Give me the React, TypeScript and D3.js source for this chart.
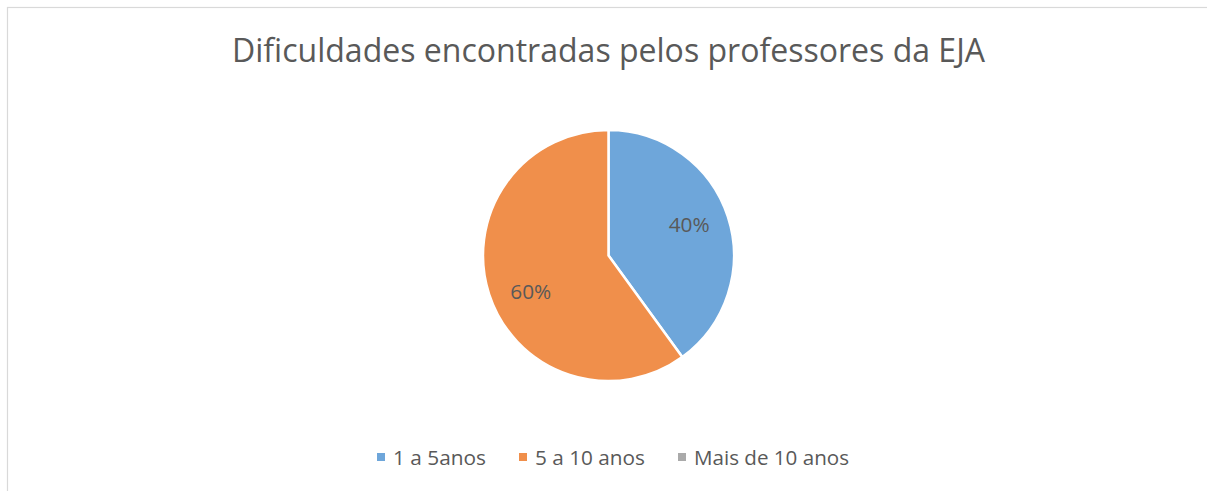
import { useEffect, useRef } from 'react';
import * as d3 from 'd3';

const title = 'Dificuldades encontradas pelos professores da EJA';
const categories = ['1 a 5anos', '5 a 10 anos', 'Mais de 10 anos'];
const values = [40, 60, 0];
const colors = ['#6ea6da', '#f08f4b', '#aaaaaa'];

const WIDTH = 1207;
const HEIGHT = 491;
const FONT = "'Open Sans', 'Noto Sans', sans-serif";
const TEXT_COLOR = '#595959';

// label placement nudges (Excel "best fit" pushes labels off the pure centroid)
const labelNudge: [number, number][] = [[-3, 4], [6, 16], [0, 0]];

export default function App() {
  const svgRef = useRef<SVGSVGElement>(null);

  useEffect(() => {
    if (!svgRef.current) return;
    const svg = d3.select(svgRef.current);
    svg.selectAll('*').remove();
    svg.attr('width', WIDTH).attr('height', HEIGHT);

    svg.append('rect').attr('width', WIDTH).attr('height', HEIGHT).attr('fill', '#fff');

    // chart frame (runs past the right and bottom edge of the crop)
    svg.append('rect')
      .attr('x', 7.5)
      .attr('y', 7.5)
      .attr('width', WIDTH + 20)
      .attr('height', HEIGHT + 20)
      .attr('fill', 'none')
      .attr('stroke', '#d9d9d9')
      .attr('stroke-width', 1.2);

    svg.append('text')
      .text(title)
      .attr('x', 608.5)
      .attr('y', 62)
      .attr('text-anchor', 'middle')
      .attr('font-family', FONT)
      .attr('font-size', 33)
      .attr('fill', TEXT_COLOR)
      .attr('textLength', 753)
      .attr('lengthAdjust', 'spacingAndGlyphs');

    const cx = 608.5;
    const cy = 255.5;
    const radius = 125.5;

    const data = categories.map((c, i) => ({ name: c, value: values[i], color: colors[i], idx: i }));
    const pie = d3.pie<typeof data[number]>().value((d) => d.value).sort(null);
    const arcs = pie(data);
    const arc = d3.arc<d3.PieArcDatum<typeof data[number]>>().innerRadius(0).outerRadius(radius);
    const labelArc = d3.arc<d3.PieArcDatum<typeof data[number]>>().innerRadius(88).outerRadius(88);

    const g = svg.append('g').attr('transform', `translate(${cx},${cy})`);

    g.selectAll('path')
      .data(arcs.filter((a) => a.value > 0))
      .join('path')
      .attr('d', arc)
      .attr('fill', (d) => d.data.color)
      .attr('stroke', '#fff')
      .attr('stroke-width', 2.5)
      .attr('stroke-linejoin', 'round');

    g.selectAll('text.label')
      .data(arcs.filter((a) => a.value > 0))
      .join('text')
      .attr('class', 'label')
      .text((d) => `${d.data.value}%`)
      .attr('x', (d) => labelArc.centroid(d)[0] + labelNudge[d.data.idx][0])
      .attr('y', (d) => labelArc.centroid(d)[1] + labelNudge[d.data.idx][1])
      .attr('text-anchor', 'middle')
      .attr('font-family', FONT)
      .attr('font-size', 20)
      .attr('fill', TEXT_COLOR)
      .attr('textLength', 41)
      .attr('lengthAdjust', 'spacingAndGlyphs');

    // legend
    const legendTextWidths = [93, 110, 155];
    const swatch = 8;
    const swatchGap = 8;
    const itemGap = 33;
    const totalW = legendTextWidths.reduce((s, w) => s + swatch + swatchGap + w, 0) + itemGap * (categories.length - 1);
    let lx = 609 - totalW / 2 + 4;
    const legend = svg.append('g');
    data.forEach((d, i) => {
      legend.append('rect')
        .attr('x', lx)
        .attr('y', 453)
        .attr('width', swatch)
        .attr('height', swatch)
        .attr('fill', d.color);
      legend.append('text')
        .text(d.name)
        .attr('x', lx + swatch + swatchGap)
        .attr('y', 464.5)
        .attr('font-family', FONT)
        .attr('font-size', 20)
        .attr('fill', TEXT_COLOR)
        .attr('textLength', legendTextWidths[i])
        .attr('lengthAdjust', 'spacingAndGlyphs');
      lx += swatch + swatchGap + legendTextWidths[i] + itemGap;
    });
  }, []);

  return (
    <div style={{ position: 'fixed', left: 0, top: 0 }}>
      <svg ref={svgRef} style={{ display: 'block' }} />
    </div>
  );
}
